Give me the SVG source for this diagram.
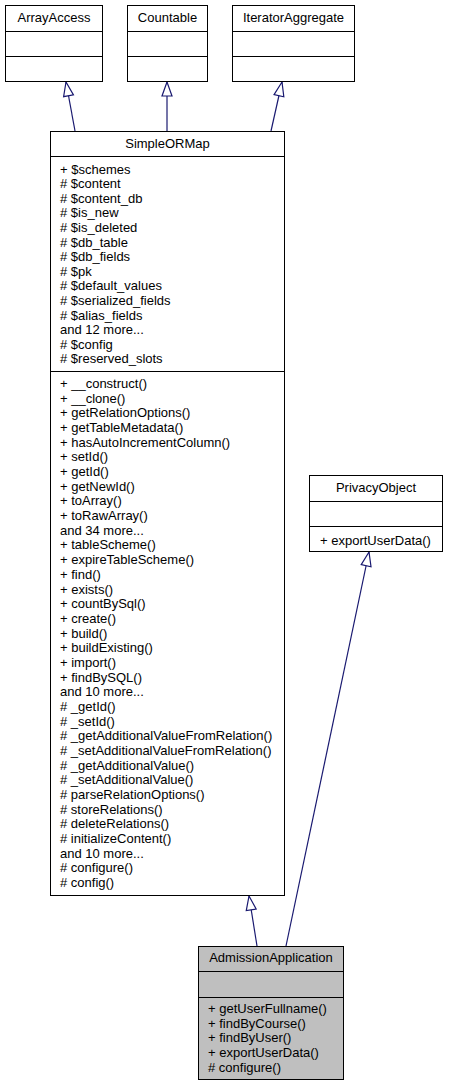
<svg xmlns="http://www.w3.org/2000/svg" width="449" height="1087" viewBox="0 0 449 1087">
<style>
.box{fill:#ffffff;stroke:#000000;stroke-width:1}
.sel{fill:#bfbfbf;stroke:#000000;stroke-width:1}
.sep{stroke:#000000;stroke-width:1}
.t{font-family:"Liberation Sans",Arial,Helvetica,sans-serif;font-size:13px;fill:#000000}
.c{text-anchor:middle}
.edge{fill:none;stroke:#191970;stroke-width:1.2}
</style>
<defs>
<marker id="inh" markerUnits="userSpaceOnUse" markerWidth="16" markerHeight="14" refX="14" refY="6" orient="auto" overflow="visible">
<path d="M14,6 L0,1 L0,11 Z" fill="#ffffff" stroke="#191970" stroke-width="1.2"/>
</marker>
</defs>
<rect width="449" height="1087" fill="#ffffff"/>
<g id="connectors">
<path class="edge" d="M75,131 L66,82" marker-end="url(#inh)"/>
<path class="edge" d="M167,131 L167,82" marker-end="url(#inh)"/>
<path class="edge" d="M271,131 L282,82" marker-end="url(#inh)"/>
<path class="edge" d="M257,946 L249,896" marker-end="url(#inh)"/>
<path class="edge" d="M286,946 L369,552" marker-end="url(#inh)"/>
</g>
<g id="ArrayAccess">
<rect class="box" x="5.5" y="5.5" width="97" height="76"/>
<line class="sep" x1="5.5" y1="31.5" x2="102.5" y2="31.5"/>
<line class="sep" x1="5.5" y1="56.5" x2="102.5" y2="56.5"/>
<text class="t c" x="54" y="21.5">ArrayAccess</text>
</g>
<g id="Countable">
<rect class="box" x="127.5" y="5.5" width="80" height="76"/>
<line class="sep" x1="127.5" y1="31.5" x2="207.5" y2="31.5"/>
<line class="sep" x1="127.5" y1="56.5" x2="207.5" y2="56.5"/>
<text class="t c" x="167.5" y="21.5">Countable</text>
</g>
<g id="IteratorAggregate">
<rect class="box" x="232.5" y="5.5" width="122" height="76"/>
<line class="sep" x1="232.5" y1="31.5" x2="354.5" y2="31.5"/>
<line class="sep" x1="232.5" y1="56.5" x2="354.5" y2="56.5"/>
<text class="t c" x="293.5" y="21.5">IteratorAggregate</text>
</g>
<g id="SimpleORMap">
<rect class="box" x="50.5" y="131.5" width="234" height="764"/>
<line class="sep" x1="50.5" y1="156.5" x2="284.5" y2="156.5"/>
<line class="sep" x1="50.5" y1="371.5" x2="284.5" y2="371.5"/>
<text class="t c" x="167.5" y="148">SimpleORMap</text>
<text class="t" x="60" y="173.5"><tspan x="60">+ $schemes</tspan><tspan x="60" dy="14.6"># $content</tspan><tspan x="60" dy="14.6"># $content_db</tspan><tspan x="60" dy="14.6"># $is_new</tspan><tspan x="60" dy="14.6"># $is_deleted</tspan><tspan x="60" dy="14.6"># $db_table</tspan><tspan x="60" dy="14.6"># $db_fields</tspan><tspan x="60" dy="14.6"># $pk</tspan><tspan x="60" dy="14.6"># $default_values</tspan><tspan x="60" dy="14.6"># $serialized_fields</tspan><tspan x="60" dy="14.6"># $alias_fields</tspan><tspan x="60" dy="14.6">and 12 more...</tspan><tspan x="60" dy="14.6"># $config</tspan><tspan x="60" dy="14.6"># $reserved_slots</tspan></text>
<text class="t" x="60" y="388"><tspan x="60">+ __construct()</tspan><tspan x="60" dy="14.68">+ __clone()</tspan><tspan x="60" dy="14.68">+ getRelationOptions()</tspan><tspan x="60" dy="14.68">+ getTableMetadata()</tspan><tspan x="60" dy="14.68">+ hasAutoIncrementColumn()</tspan><tspan x="60" dy="14.68">+ setId()</tspan><tspan x="60" dy="14.68">+ getId()</tspan><tspan x="60" dy="14.68">+ getNewId()</tspan><tspan x="60" dy="14.68">+ toArray()</tspan><tspan x="60" dy="14.68">+ toRawArray()</tspan><tspan x="60" dy="14.68">and 34 more...</tspan><tspan x="60" dy="14.68">+ tableScheme()</tspan><tspan x="60" dy="14.68">+ expireTableScheme()</tspan><tspan x="60" dy="14.68">+ find()</tspan><tspan x="60" dy="14.68">+ exists()</tspan><tspan x="60" dy="14.68">+ countBySql()</tspan><tspan x="60" dy="14.68">+ create()</tspan><tspan x="60" dy="14.68">+ build()</tspan><tspan x="60" dy="14.68">+ buildExisting()</tspan><tspan x="60" dy="14.68">+ import()</tspan><tspan x="60" dy="14.68">+ findBySQL()</tspan><tspan x="60" dy="14.68">and 10 more...</tspan><tspan x="60" dy="14.68"># _getId()</tspan><tspan x="60" dy="14.68"># _setId()</tspan><tspan x="60" dy="14.68"># _getAdditionalValueFromRelation()</tspan><tspan x="60" dy="14.68"># _setAdditionalValueFromRelation()</tspan><tspan x="60" dy="14.68"># _getAdditionalValue()</tspan><tspan x="60" dy="14.68"># _setAdditionalValue()</tspan><tspan x="60" dy="14.68"># parseRelationOptions()</tspan><tspan x="60" dy="14.68"># storeRelations()</tspan><tspan x="60" dy="14.68"># deleteRelations()</tspan><tspan x="60" dy="14.68"># initializeContent()</tspan><tspan x="60" dy="14.68">and 10 more...</tspan><tspan x="60" dy="14.68"># configure()</tspan><tspan x="60" dy="14.68"># config()</tspan></text>
</g>
<g id="PrivacyObject">
<rect class="box" x="309.5" y="475.5" width="133" height="76"/>
<line class="sep" x1="309.5" y1="501.5" x2="442.5" y2="501.5"/>
<line class="sep" x1="309.5" y1="526.5" x2="442.5" y2="526.5"/>
<text class="t c" x="376" y="491.5">PrivacyObject</text>
<text class="t" x="320" y="544.5">+ exportUserData()</text>
</g>
<g id="AdmissionApplication">
<rect class="sel" x="198.5" y="946.5" width="145" height="133"/>
<line class="sep" x1="198.5" y1="971.5" x2="343.5" y2="971.5"/>
<line class="sep" x1="198.5" y1="997.5" x2="343.5" y2="997.5"/>
<text class="t c" x="271" y="962">AdmissionApplication</text>
<text class="t" x="208" y="1013"><tspan x="208">+ getUserFullname()</tspan><tspan x="208" dy="14.7">+ findByCourse()</tspan><tspan x="208" dy="14.7">+ findByUser()</tspan><tspan x="208" dy="14.7">+ exportUserData()</tspan><tspan x="208" dy="14.7"># configure()</tspan></text>
</g>
</svg>
